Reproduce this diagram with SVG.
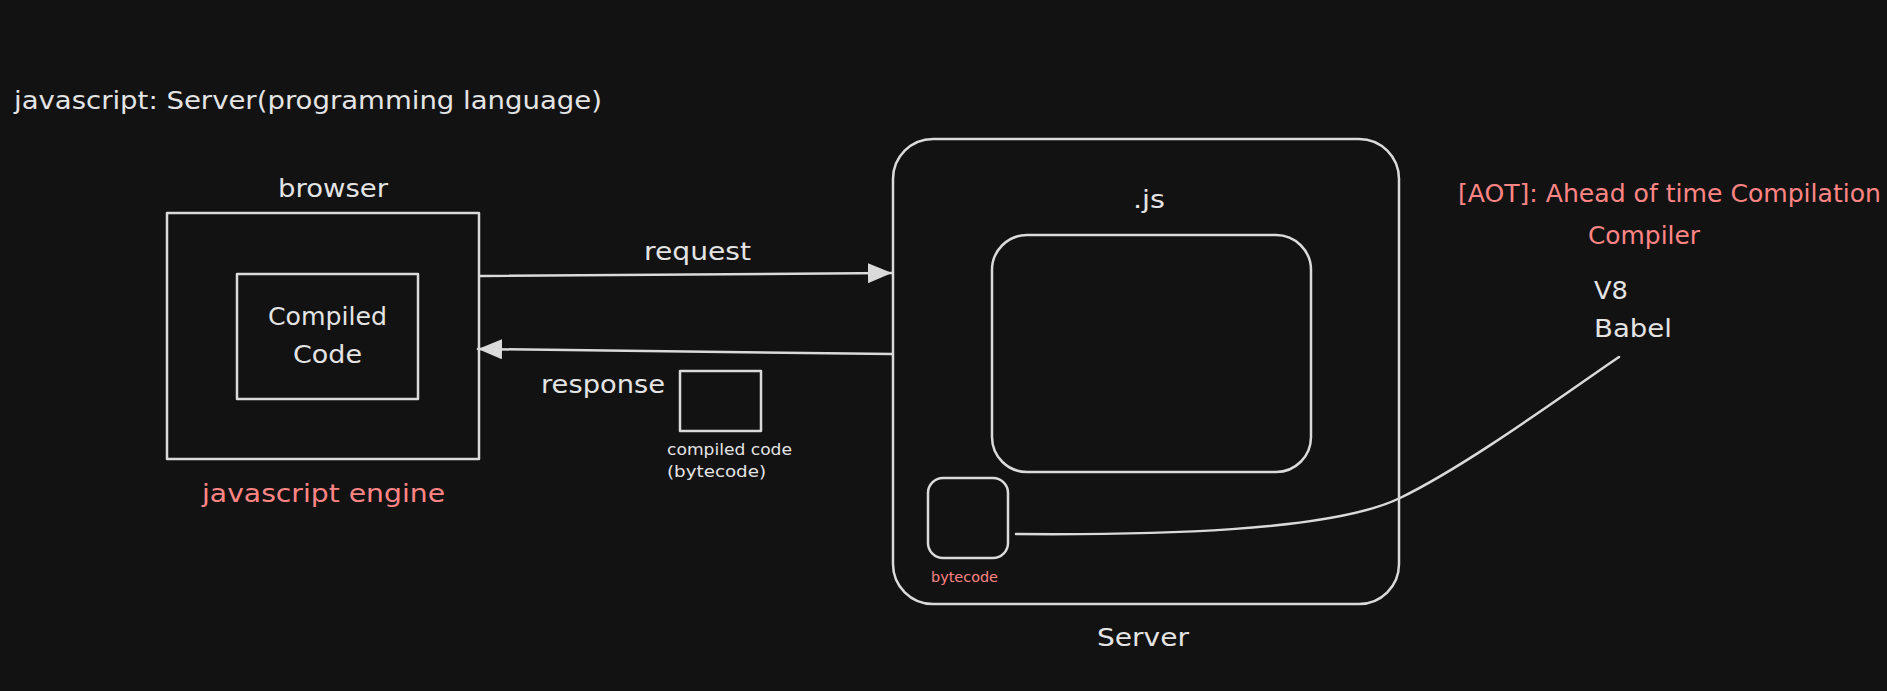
<svg xmlns="http://www.w3.org/2000/svg" width="1887" height="691" viewBox="0 0 1887 691">
<defs>
<style>
.bg{fill:#121212}
.box{fill:none;stroke:#dadada;stroke-width:2.5;stroke-linejoin:round}
.ln{fill:none;stroke:#dadada;stroke-width:2.5;stroke-linecap:round}
.t{font-family:"DejaVu Sans","Liberation Sans",sans-serif;font-size:25px;fill:#e4e4e4}
.r{fill:#ff8585}
.s{font-size:16px}
.xs{font-size:14px}
</style>
<marker id="ah" viewBox="0 0 24 20" refX="24" refY="10" markerWidth="24" markerHeight="20" markerUnits="userSpaceOnUse" orient="auto">
<path d="M0,0 L24,10 L0,20 z" fill="#dadada"/>
</marker>
</defs>
<rect class="bg" x="0" y="0" width="1887" height="691"/>
<g id="title"><text class="t" x="14" y="109" textLength="588" lengthAdjust="spacingAndGlyphs">javascript: Server(programming language)</text></g>
<g id="browser">
<text class="t" x="278" y="197" textLength="110" lengthAdjust="spacingAndGlyphs">browser</text>
<rect class="box" x="167" y="213" width="312" height="246"/>
<text class="t r" x="202" y="502" textLength="243" lengthAdjust="spacingAndGlyphs">javascript engine</text>
</g>
<g id="compiled-code">
<rect class="box" x="237" y="274" width="181" height="125"/>
<text class="t" x="268" y="325" textLength="119" lengthAdjust="spacingAndGlyphs">Compiled</text>
<text class="t" x="293" y="363" textLength="69" lengthAdjust="spacingAndGlyphs">Code</text>
</g>
<g id="bytecode-packet">
<rect class="box" x="680" y="371" width="81" height="60"/>
<text class="t s" x="667" y="455" textLength="125" lengthAdjust="spacingAndGlyphs">compiled code</text>
<text class="t s" x="667" y="477" textLength="99" lengthAdjust="spacingAndGlyphs">(bytecode)</text>
</g>
<g id="server">
<rect class="box" x="893" y="139" width="506" height="465" rx="40" ry="40"/>
<text class="t" x="1097" y="646" textLength="92" lengthAdjust="spacingAndGlyphs">Server</text>
</g>
<g id="js">
<text class="t" x="1133" y="208" textLength="32" lengthAdjust="spacingAndGlyphs">.js</text>
<rect class="box" x="992" y="235" width="319" height="237" rx="35" ry="35"/>
</g>
<g id="bytecode">
<rect class="box" x="928" y="478" width="80" height="80" rx="15" ry="15"/>
<text class="t r xs" x="931" y="582" textLength="67" lengthAdjust="spacingAndGlyphs">bytecode</text>
</g>
<g id="compiler">
<text class="t r" x="1458" y="202" textLength="423" lengthAdjust="spacingAndGlyphs">[AOT]: Ahead of time Compilation</text>
<text class="t r" x="1588" y="244" textLength="112" lengthAdjust="spacingAndGlyphs">Compiler</text>
<text class="t" x="1594" y="299" textLength="34" lengthAdjust="spacingAndGlyphs">V8</text>
<text class="t" x="1594" y="337" textLength="78" lengthAdjust="spacingAndGlyphs">Babel</text>
</g>
<g id="connectors">
<path class="ln" d="M480,276 L892,273" marker-end="url(#ah)"/>
<text class="t" x="644" y="260" textLength="107" lengthAdjust="spacingAndGlyphs">request</text>
<path class="ln" d="M892,354 L478,349" marker-end="url(#ah)"/>
<text class="t" x="541" y="393" textLength="124" lengthAdjust="spacingAndGlyphs">response</text>
<path class="ln" d="M1016,534 C1150,535 1330,532 1400,498 S1570,390 1619,357"/>
</g>
</svg>
